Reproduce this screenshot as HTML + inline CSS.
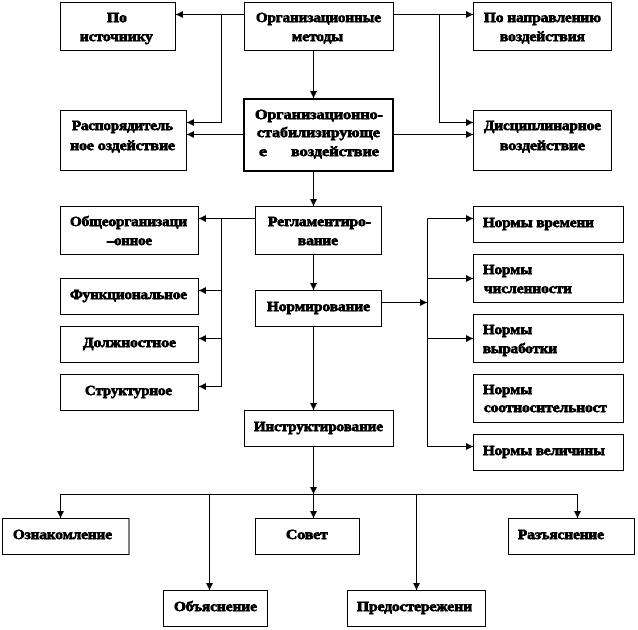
<!DOCTYPE html>
<html lang="ru"><head><meta charset="utf-8"><style>
html,body{margin:0;padding:0;background:#fff;width:638px;height:630px;overflow:hidden}
svg{display:block}
text{font-family:"Liberation Serif","Noto Serif CJK SC",serif;font-weight:bold;font-size:13.33px;fill:#000;stroke:#000;stroke-width:.45}
rect{fill:#fff;stroke:#000;stroke-width:1}
path.l{fill:none;stroke:#000;stroke-width:1}
polygon{fill:#000}
</style></head><body>
<svg width="638" height="630" viewBox="0 0 638 630" xmlns="http://www.w3.org/2000/svg">
<defs><filter id="j" x="0" y="0" width="100%" height="100%" filterUnits="userSpaceOnUse" primitiveUnits="userSpaceOnUse" color-interpolation-filters="sRGB"><feComponentTransfer><feFuncA type="discrete" tableValues="0 1 1 1"/></feComponentTransfer></filter></defs>
<path class="l" d="M175 14.5H244.5M221.5 14.5V122.5H187M187 134.5H244.5M393.5 14.5H473M439.5 14.5V122.5H473M393.5 134.5H473M313.5 50V98M313.5 171V206M313.5 254V290M313.5 326V410M313.5 446V518M198 218.5H255.5M221.5 218.5V386.5H198M198 290.5H221.5M198 338.5H221.5M382 302.5H427.5M427.5 218.5V446.5H473M427.5 218.5H473M427.5 278.5H473M427.5 338.5H473M60.5 518V494.5H577.5V518M209.5 494.5V590M416.5 494.5V590"/>
<rect x="60.5" y="2.5" width="115" height="48"/>
<rect x="244.5" y="2.5" width="149" height="48"/>
<rect x="473.5" y="2.5" width="138" height="48"/>
<rect x="60.5" y="110.5" width="126" height="60"/>
<rect x="244" y="99" width="149" height="72" style="stroke-width:2"/>
<rect x="473.5" y="110.5" width="138" height="60"/>
<rect x="60.5" y="206.5" width="138" height="48"/>
<rect x="60.5" y="278.5" width="138" height="36"/>
<rect x="60.5" y="326.5" width="138" height="36"/>
<rect x="60.5" y="374.5" width="138" height="36"/>
<rect x="255.5" y="206.5" width="126" height="48"/>
<rect x="255.5" y="290.5" width="126" height="36"/>
<rect x="244.5" y="410.5" width="149" height="36"/>
<rect x="473.5" y="206.5" width="150" height="36"/>
<rect x="473.5" y="254.5" width="150" height="48"/>
<rect x="473.5" y="314.5" width="150" height="48"/>
<rect x="473.5" y="374.5" width="150" height="48"/>
<rect x="473.5" y="434.5" width="150" height="36"/>
<rect x="2.5" y="518.5" width="126.500" height="36"/>
<rect x="255.500" y="518.5" width="104" height="36"/>
<rect x="508.500" y="518.5" width="126" height="36"/>
<rect x="163.500" y="590.5" width="104" height="36"/>
<rect x="347.500" y="590.5" width="138" height="36"/>
<!-- left arrows -->
<polygon points="176,14.500 183,11 183,18"/>
<polygon points="187,122.500 194,119 194,126"/>
<polygon points="187,134.500 194,131 194,138"/>
<polygon points="199,218.500 206,215 206,222"/>
<polygon points="199,290.500 206,287 206,294"/>
<polygon points="199,338.500 206,335 206,342"/>
<polygon points="199,386.500 206,383 206,390"/>
<!-- right arrows -->
<polygon points="473,14.500 466,11 466,18"/>
<polygon points="473,122.500 466,119 466,126"/>
<polygon points="473,134.500 466,131 466,138"/>
<polygon points="473,218.500 466,215 466,222"/>
<polygon points="473,278.500 466,275 466,282"/>
<polygon points="473,338.500 466,335 466,342"/>
<polygon points="473,446.500 466,443 466,450"/>
<polygon points="427,302.500 420,299 420,306"/>
<!-- down arrows -->
<polygon points="313.500,98 310,91 317,91"/>
<polygon points="313.500,206 310,199 317,199"/>
<polygon points="313.500,290 310,283 317,283"/>
<polygon points="313.500,410 310,403 317,403"/>
<polygon points="313.500,494 310,487 317,487"/>
<polygon points="313.500,518 310,511 317,511"/>
<polygon points="60.500,518 57,511 64,511"/>
<polygon points="577.500,518 574,511 581,511"/>
<polygon points="209.500,590 206,583 213,583"/>
<polygon points="416.500,590 413,583 420,583"/>
<g filter="url(#j)">
<text x="107" y="22" textLength="20" lengthAdjust="spacingAndGlyphs">По</text>
<text x="80" y="41" textLength="73" lengthAdjust="spacingAndGlyphs">источнику</text>
<text x="256" y="22" textLength="125" lengthAdjust="spacingAndGlyphs">Организационные</text>
<text x="292" y="41" textLength="51" lengthAdjust="spacingAndGlyphs">методы</text>
<text x="484" y="22" textLength="117" lengthAdjust="spacingAndGlyphs">По направлению</text>
<text x="500" y="41" textLength="85" lengthAdjust="spacingAndGlyphs">воздействия</text>
<text x="72" y="130" textLength="101" lengthAdjust="spacingAndGlyphs">Распорядитель</text>
<text x="70" y="150" textLength="105" lengthAdjust="spacingAndGlyphs">ное оздействие</text>
<text x="255" y="119" textLength="128" lengthAdjust="spacingAndGlyphs">Организационно-</text>
<text x="257" y="137" textLength="123" lengthAdjust="spacingAndGlyphs">стабилизирующе</text>
<text x="259" y="156" textLength="8" lengthAdjust="spacingAndGlyphs">е</text>
<text x="291" y="156" textLength="88" lengthAdjust="spacingAndGlyphs">воздействие</text>
<text x="484" y="130" textLength="117" lengthAdjust="spacingAndGlyphs">Дисциплинарное</text>
<text x="500" y="150" textLength="85" lengthAdjust="spacingAndGlyphs">воздействие</text>
<text x="70" y="226" textLength="117" lengthAdjust="spacingAndGlyphs">Общеорганизаци</text>
<text x="107" y="245" textLength="45" lengthAdjust="spacingAndGlyphs">–онное</text>
<text x="70" y="299" textLength="117" lengthAdjust="spacingAndGlyphs">Функциональное</text>
<text x="83" y="347" textLength="93" lengthAdjust="spacingAndGlyphs">Должностное</text>
<text x="85" y="395" textLength="87" lengthAdjust="spacingAndGlyphs">Структурное</text>
<text x="268" y="226" textLength="103" lengthAdjust="spacingAndGlyphs">Регламентиро-</text>
<text x="298" y="245" textLength="40" lengthAdjust="spacingAndGlyphs">вание</text>
<text x="267" y="311" textLength="103" lengthAdjust="spacingAndGlyphs">Нормирование</text>
<text x="254" y="431" textLength="129" lengthAdjust="spacingAndGlyphs">Инструктирование</text>
<text x="483" y="227" textLength="111" lengthAdjust="spacingAndGlyphs">Нормы времени</text>
<text x="483" y="274" textLength="49" lengthAdjust="spacingAndGlyphs">Нормы</text>
<text x="484" y="293" textLength="88" lengthAdjust="spacingAndGlyphs">численности</text>
<text x="483" y="334" textLength="49" lengthAdjust="spacingAndGlyphs">Нормы</text>
<text x="483" y="353" textLength="74" lengthAdjust="spacingAndGlyphs">выработки</text>
<text x="483" y="394" textLength="49" lengthAdjust="spacingAndGlyphs">Нормы</text>
<text x="484" y="412" textLength="123" lengthAdjust="spacingAndGlyphs">соотносительност</text>
<text x="483" y="455" textLength="122" lengthAdjust="spacingAndGlyphs">Нормы величины</text>
<text x="13" y="539" textLength="99" lengthAdjust="spacingAndGlyphs">Ознакомление</text>
<text x="286" y="539" textLength="42" lengthAdjust="spacingAndGlyphs">Совет</text>
<text x="518" y="539" textLength="86" lengthAdjust="spacingAndGlyphs">Разъяснение</text>
<text x="174" y="611" textLength="83" lengthAdjust="spacingAndGlyphs">Объяснение</text>
<text x="357" y="611" textLength="115" lengthAdjust="spacingAndGlyphs">Предостережени</text>
</g>
</svg>
</body></html>
